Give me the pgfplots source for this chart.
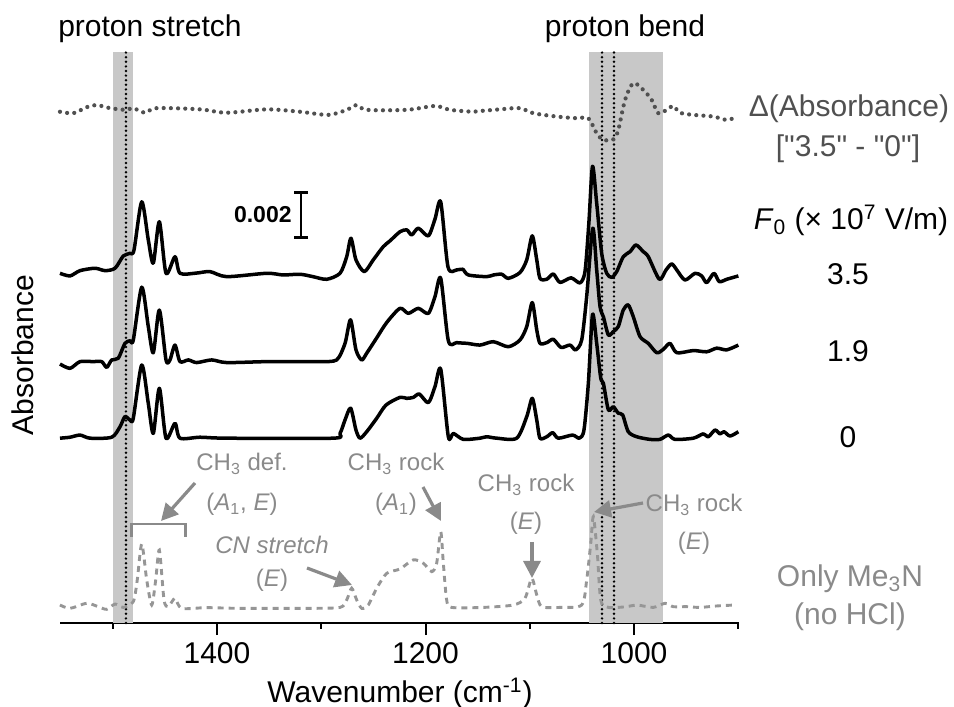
\documentclass[border=0pt]{standalone}
\usepackage{fontspec}
\setmainfont{Liberation Sans}[Ligatures=TeXOff]
\usepackage{pgfplots}
\pgfplotsset{compat=1.18}
\usepackage{pgfplotstable}
\usetikzlibrary{arrows.meta}

\definecolor{bandgray}{RGB}{200,200,200}
\definecolor{notegray}{RGB}{138,138,138}
\definecolor{refgray}{RGB}{150,150,150}
\definecolor{diffgray}{RGB}{80,80,80}
\newcommand\mainsize{\fontsize{15}{18}\selectfont}
\newcommand\notesize{\fontsize{12}{14}\selectfont}

% Absorbance in units of 0.001, traces offset vertically
\pgfplotstableread{
wn a
1550.6 14.57
1541.0 14.46
1531.4 14.68
1517.0 14.78
1507.4 14.68
1497.8 14.78
1489.9 15.29
1483.5 15.40
1479.6 15.54
1472.2 17.55
1465.9 15.96
1461.1 14.99
1455.3 16.72
1448.9 14.57
1440.3 15.26
1435.5 14.57
1419.5 14.58
1406.7 14.64
1390.7 14.43
1352.3 14.57
1336.7 14.50
1320.4 14.53
1307.9 14.43
1294.8 14.32
1282.0 14.57
1275.6 15.26
1271.5 16.03
1266.7 15.13
1258.7 14.64
1250.1 15.13
1240.5 15.68
1234.1 15.92
1224.5 16.30
1218.0 16.38
1213.2 16.17
1206.9 16.45
1197.3 16.13
1190.9 16.83
1185.4 17.54
1178.4 14.83
1170.1 14.71
1164.3 14.74
1158.9 14.50
1141.3 14.43
1134.9 14.50
1126.9 14.53
1120.6 14.36
1109.4 14.60
1102.9 15.13
1097.6 16.13
1093.3 15.13
1090.2 14.36
1083.7 14.32
1077.4 14.54
1071.0 14.19
1060.4 14.38
1051.8 14.17
1047.0 14.65
1043.3 16.67
1039.8 19.03
1035.8 17.49
1031.0 15.40
1026.2 14.57
1021.4 14.40
1016.6 14.64
1010.3 15.26
1003.8 15.47
998.1 15.75
991.1 15.47
986.3 15.26
975.7 14.32
969.3 14.71
963.8 14.96
959.0 14.71
951.1 14.29
941.5 14.57
935.1 14.46
930.3 14.18
923.3 14.57
918.2 14.22
911.1 14.32
899.9 14.46
}\fieldhigh

\pgfplotstableread{
wn a
1550.6 10.79
1541.0 10.61
1531.4 10.89
1518.7 10.89
1510.6 10.89
1505.8 10.65
1501.0 10.96
1494.7 11.03
1488.3 11.65
1483.5 11.76
1480.3 11.79
1472.2 13.99
1465.9 12.35
1461.1 11.26
1455.3 13.04
1448.9 10.96
1445.1 10.96
1440.3 11.58
1435.5 10.89
1427.5 10.96
1419.5 10.85
1405.1 10.96
1390.7 10.85
1352.3 10.89
1320.4 10.89
1301.2 10.89
1285.2 10.96
1277.2 11.65
1271.9 12.63
1266.7 11.38
1261.2 10.96
1256.4 11.24
1246.8 11.88
1237.2 12.52
1224.5 13.11
1216.5 12.90
1206.9 13.11
1197.3 12.90
1190.9 13.60
1185.4 14.36
1178.1 11.76
1170.1 11.68
1159.9 11.65
1147.7 11.58
1134.9 11.72
1120.6 11.51
1109.4 11.79
1102.9 12.35
1097.6 13.35
1093.3 12.21
1090.2 11.65
1083.7 11.68
1077.4 11.82
1070.0 11.48
1061.4 11.58
1056.1 11.38
1050.2 11.79
1045.4 13.60
1039.6 16.45
1035.8 14.71
1032.6 13.18
1029.4 12.76
1024.6 12.00
1019.9 12.14
1015.1 12.35
1010.3 13.04
1005.5 13.25
1000.7 12.76
994.2 11.93
986.3 11.65
978.2 11.26
971.9 11.40
965.5 11.65
959.0 11.26
943.1 11.35
930.3 11.30
920.7 11.45
911.1 11.38
899.9 11.58
}\fieldmid

\pgfplotstableread{
wn a
1550.6 7.70
1541.0 7.74
1531.4 7.83
1521.8 7.70
1501.0 7.74
1493.0 8.18
1488.3 8.60
1483.5 8.46
1480.3 8.53
1472.2 10.75
1465.9 9.15
1461.1 7.90
1455.3 9.78
1448.9 7.70
1440.3 8.32
1435.5 7.70
1416.3 7.74
1390.7 7.70
1288.7 7.70
1282.0 7.90
1277.2 8.46
1271.8 8.95
1266.7 8.04
1262.8 7.70
1256.4 7.97
1246.8 8.53
1237.9 9.08
1224.5 9.40
1218.0 9.36
1211.7 9.40
1205.9 9.54
1197.3 9.18
1190.9 9.85
1185.4 10.57
1178.1 7.76
1173.3 7.90
1163.7 7.65
1147.7 7.70
1141.3 7.76
1131.7 7.70
1112.5 7.70
1102.9 8.60
1097.6 9.36
1093.3 8.46
1090.2 7.70
1083.7 7.76
1078.0 7.93
1072.6 7.70
1059.0 7.83
1052.5 7.70
1048.0 8.04
1043.8 9.99
1039.8 12.85
1035.8 11.65
1031.9 10.20
1029.4 9.99
1024.6 8.88
1019.9 9.01
1015.1 8.74
1010.9 8.67
1005.5 7.97
997.4 7.76
984.7 7.65
975.1 7.65
967.1 7.83
960.7 7.65
943.1 7.70
933.5 7.88
928.7 7.76
922.3 8.04
917.5 7.88
913.7 7.97
907.9 7.79
899.9 7.97
}\fieldzero

\pgfplotstableread{
wn a
1550.6 0.75
1541.0 0.61
1525.0 0.82
1513.9 0.68
1505.8 0.57
1497.8 0.79
1489.9 0.65
1480.3 0.89
1476.5 1.79
1472.2 3.29
1467.4 1.79
1462.6 0.75
1458.8 1.79
1455.3 3.04
1450.8 0.96
1446.7 0.68
1440.3 1.03
1433.9 0.61
1409.9 0.64
1377.9 0.61
1314.0 0.61
1282.0 0.65
1275.6 0.96
1270.8 1.45
1266.0 0.96
1261.2 0.61
1254.9 0.75
1246.8 1.45
1237.2 2.07
1224.5 2.25
1211.7 2.63
1202.1 2.49
1194.0 2.14
1189.3 2.49
1185.4 3.80
1182.9 2.49
1179.7 0.96
1174.9 0.65
1144.6 0.65
1115.8 0.75
1104.6 1.03
1098.1 1.86
1093.3 1.17
1088.5 0.68
1071.0 0.65
1050.2 0.75
1045.4 1.79
1041.5 3.32
1039.0 4.43
1035.2 2.90
1031.9 0.96
1024.6 0.65
1007.0 0.68
997.4 0.75
981.5 0.65
970.3 0.82
962.3 0.68
949.5 0.68
936.7 0.65
920.7 0.71
903.1 0.75
}\amineonly

\pgfplotstableread{
wn a
1550.6 21.30
1537.8 21.24
1525.0 21.49
1515.4 21.58
1502.6 21.45
1487.3 21.38
1480.3 21.45
1469.1 21.26
1457.8 21.45
1416.3 21.40
1390.7 21.26
1352.3 21.40
1320.4 21.30
1293.2 21.17
1275.6 21.38
1266.0 21.58
1256.4 21.38
1218.0 21.38
1190.9 21.54
1176.5 21.38
1154.1 21.30
1147.7 21.33
1128.5 21.40
1109.4 21.45
1096.6 21.24
1074.1 21.10
1054.9 21.03
1043.8 21.03
1035.8 20.40
1029.4 20.13
1019.9 20.15
1015.1 20.54
1008.6 21.79
1000.7 22.49
991.1 22.21
983.0 21.79
976.7 21.24
968.6 21.38
962.3 21.54
955.9 21.26
943.1 21.17
923.9 21.10
911.1 20.96
901.5 21.08
}\difference

\begin{document}
\begin{tikzpicture}
\begin{axis}[
  scale only axis, width=339.5pt, height=285.5pt,
  x dir=reverse, xmin=899.3, xmax=1550.6, ymin=0, ymax=23.79,
  axis x line*=bottom, axis y line=none,
  x axis line style={-, line width=1pt},
  xtick={1400,1200,1000}, minor xtick={1500,1300,1100,900},
  ytick=\empty,
  tick align=outside, major tick length=6pt, minor tick length=3pt,
  every tick/.style={black, line width=1pt},
  xticklabel style={font=\mainsize},
  /pgf/number format/assume math mode=true,
  /pgf/number format/set thousands separator={},
  clip=false,
]
% highlighted regions
\addplot[draw=none, fill=bandgray] coordinates {(1499.8,0) (1499.8,23.79) (1480.6,23.79) (1480.6,0)};
\addplot[draw=none, fill=bandgray] coordinates {(1043.3,0) (1043.3,23.79) (972.2,23.79) (972.2,0)};
% band centres
\addplot[black, line width=1.35pt, line cap=round, dash pattern=on 0pt off 2.3pt] coordinates {(1487.3,0) (1487.3,23.79)};
\addplot[black, line width=1.35pt, line cap=round, dash pattern=on 0pt off 2.3pt] coordinates {(1030.7,0) (1030.7,23.79)};
\addplot[black, line width=1.35pt, line cap=round, dash pattern=on 0pt off 2.3pt] coordinates {(1019.2,0) (1019.2,23.79)};
% spectra
\addplot[diffgray, line width=2.1pt, line cap=round, dash pattern=on 0pt off 3.6pt, smooth, tension=0.5] table[x=wn, y=a] {\difference};
\addplot[black, line width=1.75pt, line join=round, smooth, tension=0.45] table[x=wn, y=a] {\fieldhigh};
\addplot[black, line width=1.75pt, line join=round, smooth, tension=0.45] table[x=wn, y=a] {\fieldmid};
\addplot[black, line width=1.75pt, line join=round, smooth, tension=0.45] table[x=wn, y=a] {\fieldzero};
\addplot[refgray, line width=1.45pt, dash pattern=on 3pt off 2.5pt, smooth, tension=0.45] table[x=wn, y=a] {\amineonly};
% scale bar: 0.002
\addplot[black, line width=1.3pt, {Bar[width=7pt,line width=1.3pt]}-{Bar[width=7pt,line width=1.3pt]}] coordinates {(1319.4,16) (1319.4,18)};
\end{axis}

\begin{scope}[shift={(current axis.south west)}, xshift=-30pt, yshift=311.5pt, x=0.5pt, y=-0.5pt]
  \node[anchor=base, inner sep=0, font=\mainsize] at (150,37) {proton stretch};
  \node[anchor=base, inner sep=0, font=\mainsize] at (625,37) {proton bend};
  \node[anchor=base, inner sep=0, font=\mainsize, text=diffgray] at (849,117) {Δ(Absorbance)};
  \node[anchor=base, inner sep=0, font=\mainsize, text=diffgray] at (848,157) {["3.5" - "0"]};
  \node[anchor=base east, inner sep=0, font=\fontsize{11.5}{13}\selectfont\bfseries] at (292,223) {0.002};
  \node[anchor=base, inner sep=0, font=\mainsize] at (851,230) {\textit{F}\textsubscript{0} (× 10\textsuperscript{7} V/m)};
  \node[anchor=base, inner sep=0, font=\mainsize] at (848,285) {3.5};
  \node[anchor=base, inner sep=0, font=\mainsize] at (848,362) {1.9};
  \node[anchor=base, inner sep=0, font=\mainsize] at (848,448) {0};
  \node[anchor=base, inner sep=0, font=\mainsize, rotate=90] at (33.5,355) {Absorbance};
  \node[anchor=base, inner sep=0, font=\mainsize] at (400,703) {Wavenumber (cm\textsuperscript{-1})};
  % band assignments of the reference spectrum
  \begin{scope}[notegray, font=\notesize, every node/.style={anchor=base, inner sep=0}]
    \node at (242,471) {CH\textsubscript{3} def.};
    \node at (242,511) {(\textit{A}\textsubscript{1}, \textit{E})};
    \node at (272,554) {\textit{CN stretch}};
    \node at (272,587) {(\textit{E})};
    \node at (396,471) {CH\textsubscript{3} rock};
    \node at (396,511) {(\textit{A}\textsubscript{1})};
    \node at (526,492) {CH\textsubscript{3} rock};
    \node at (526,530) {(\textit{E})};
    \node at (694,512) {CH\textsubscript{3} rock};
    \node at (694,550) {(\textit{E})};
    \node[font=\mainsize] at (850,587) {Only Me\textsubscript{3}N};
    \node[font=\mainsize] at (850,625) {(no HCl)};
    \draw[line width=1.4pt] (131.5,537) -- (131.5,524) -- (185.3,524) -- (185.3,537);
    \draw[line width=1.6pt, -{Triangle[length=8.5pt,width=8.5pt]}] (195,483) -- (161,521);
    \draw[line width=1.6pt, -{Triangle[length=8.5pt,width=8.5pt]}] (307,568) -- (352,585);
    \draw[line width=1.6pt, -{Triangle[length=8.5pt,width=8.5pt]}] (423,487) -- (441,521);
    \draw[line width=1.6pt, -{Triangle[length=8.5pt,width=8.5pt]}] (532,542) -- (532,578);
    \draw[line width=1.6pt, -{Triangle[length=8.5pt,width=8.5pt]}] (643,503) -- (594,512);
  \end{scope}
  \pgfresetboundingbox
  \path (0,0) rectangle (954,707);
\end{scope}
\end{tikzpicture}
\end{document}
